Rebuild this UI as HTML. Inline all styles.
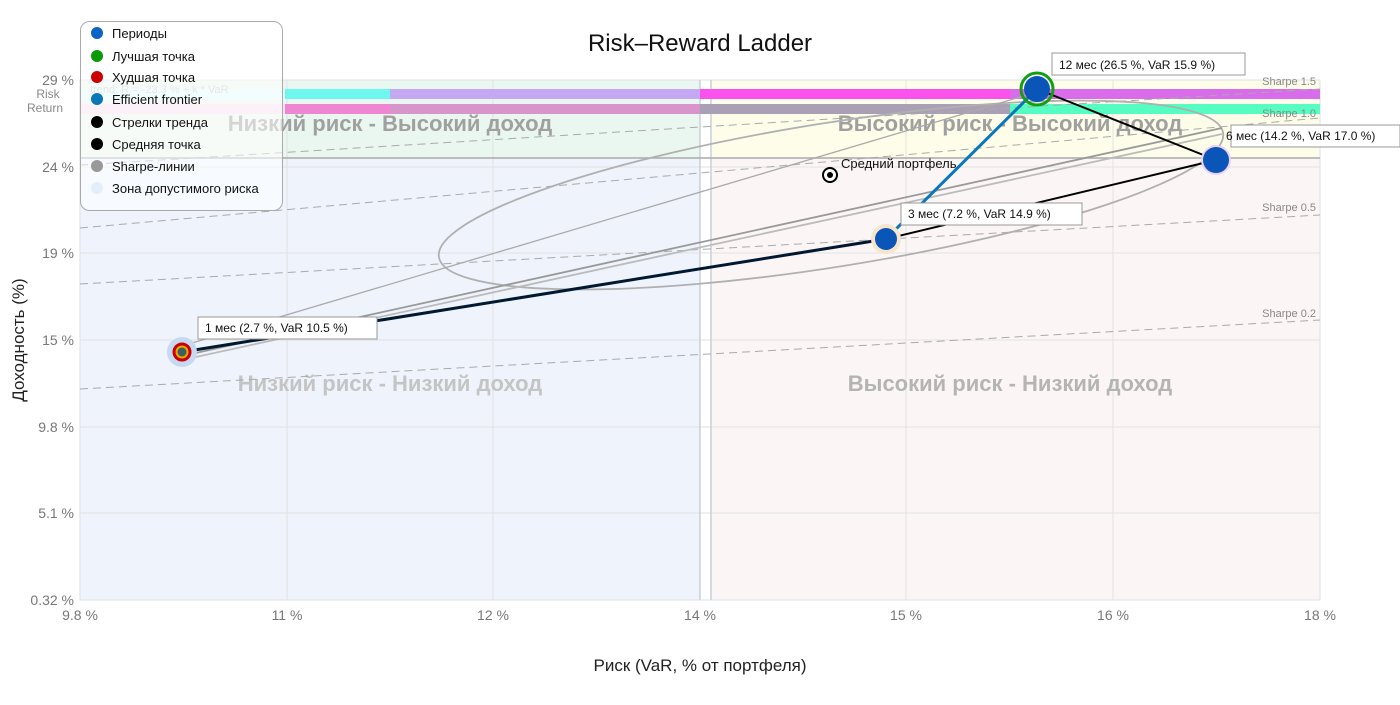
<!DOCTYPE html>
<html><head><meta charset="utf-8"><style>
body{margin:0;background:#fff;}
svg text{font-family:"Liberation Sans",sans-serif;}
</style></head><body>
<svg width="1400" height="700" xmlns="http://www.w3.org/2000/svg">
<rect width="1400" height="700" fill="#fff"/>
<!-- zones -->
<rect x="80" y="80" width="620" height="78" fill="#eaf7f0"/>
<rect x="80" y="158" width="620" height="442" fill="#eef3fc"/>
<rect x="711" y="80" width="609" height="78" fill="#fdfdea"/>
<rect x="711" y="158" width="609" height="442" fill="#fcf5f5"/>
<rect x="80" y="80" width="1240" height="520" fill="none" stroke="#dde3ea"/>
<!-- grid -->
<g stroke="#e2e2e2" stroke-width="1">
<line x1="287" y1="80" x2="287" y2="600"/><line x1="493" y1="80" x2="493" y2="600"/>
<line x1="906" y1="80" x2="906" y2="600"/><line x1="1113" y1="80" x2="1113" y2="600"/>
<line x1="80" y1="167" x2="1320" y2="167"/><line x1="80" y1="253" x2="1320" y2="253"/>
<line x1="80" y1="340" x2="1320" y2="340"/><line x1="80" y1="427" x2="1320" y2="427"/>
<line x1="80" y1="513" x2="1320" y2="513"/>
</g>
<line x1="700" y1="80" x2="700" y2="600" stroke="#c8d0da" stroke-width="1.5"/>
<line x1="711" y1="80" x2="711" y2="600" stroke="#c8d0da" stroke-width="1.5"/>
<line x1="80" y1="158" x2="1320" y2="158" stroke="#aaa" stroke-width="1.5"/>
<!-- bars -->
<rect x="80" y="89" width="205" height="10" fill="#e2fdfb"/>
<rect x="285" y="89" width="105" height="10" fill="#6ef7ee"/>
<rect x="390" y="89" width="310" height="10" fill="#c5a8f2"/>
<rect x="700" y="89" width="310" height="10" fill="#fb52ee"/>
<rect x="1010" y="89" width="310" height="10" fill="#d96ceb"/>
<rect x="80" y="104" width="205" height="10" fill="#fbe0f2"/>
<rect x="285" y="104" width="105" height="10" fill="#ee86d2"/>
<rect x="390" y="104" width="310" height="10" fill="#d895cc"/>
<rect x="700" y="104" width="310" height="10" fill="#aaa0b6"/>
<rect x="1010" y="104" width="310" height="10" fill="#55fdc3"/>
<text x="90" y="93" font-size="11" fill="#c8c8c8">trend: R = -23.3 % + k * VaR</text>
<text x="48" y="98" font-size="12" fill="#888" text-anchor="middle">Risk</text>
<text x="45" y="112" font-size="12" fill="#888" text-anchor="middle">Return</text>
<!-- zone labels -->
<g font-size="22" font-weight="bold" fill="#a0a0a0" text-anchor="middle">
<text x="390" y="131">Низкий риск - Высокий доход</text>
<text x="1010" y="131">Высокий риск - Высокий доход</text>
<text x="390" y="391" fill="#c4c4c4">Низкий риск - Низкий доход</text>
<text x="1010" y="391" fill="#b4b4b4">Высокий риск - Низкий доход</text>
</g>
<!-- sharpe lines -->
<g stroke="#aaa" stroke-dasharray="8,5" stroke-width="1" fill="none">
<line x1="80" y1="165" x2="1320" y2="89"/>
<line x1="80" y1="228" x2="1320" y2="118"/>
<line x1="80" y1="284" x2="1320" y2="215"/>
<line x1="80" y1="389" x2="1320" y2="320"/>
</g>
<g font-size="11" fill="#888" text-anchor="end">
<text x="1316" y="85">Sharpe 1.5</text>
<text x="1316" y="117">Sharpe 1.0</text>
<text x="1316" y="211">Sharpe 0.5</text>
<text x="1316" y="317">Sharpe 0.2</text>
</g>
<!-- ellipse & gray lines -->
<ellipse cx="831" cy="195" rx="397" ry="72" transform="rotate(-9 831 195)" fill="none" stroke="#b0b0b0" stroke-width="1.8"/>
<g stroke="#aaa" stroke-width="1.8" fill="none">
<line x1="182" y1="346" x2="1037" y2="92" stroke-width="1.3"/>
<line x1="182" y1="356" x2="1222" y2="128" stroke="#999"/>
<line x1="182" y1="360" x2="1222" y2="134" stroke="#bbb"/>
</g>
<!-- series lines -->
<line x1="182" y1="352" x2="886" y2="239" stroke="#001830" stroke-width="3"/>
<line x1="886" y1="239" x2="1216" y2="160" stroke="#000" stroke-width="2"/>
<line x1="1037" y1="89" x2="1216" y2="160" stroke="#000" stroke-width="2"/>
<line x1="886" y1="239" x2="1037" y2="89" stroke="#0a78b8" stroke-width="3"/>
<!-- points -->
<circle cx="182" cy="352" r="15" fill="#c6d9f3"/>
<circle cx="182" cy="352" r="8" fill="#e8a800" stroke="#cc0000" stroke-width="3"/>
<circle cx="182" cy="352" r="4.5" fill="#3a6060"/>
<circle cx="886" cy="239" r="15" fill="#f6e6cc"/>
<circle cx="886" cy="239" r="11" fill="#0a55b8"/>
<circle cx="1216" cy="160" r="15" fill="#ecd2f0"/>
<circle cx="1216" cy="160" r="13" fill="#0a55b8"/>
<circle cx="1037" cy="89" r="16" fill="none" stroke="#12a012" stroke-width="3"/>
<circle cx="1037" cy="89" r="13" fill="#0a55b8"/>
<circle cx="830" cy="175" r="7" fill="#fff" stroke="#000" stroke-width="2"/>
<circle cx="830" cy="175" r="3" fill="#000"/>
<text x="841" y="168" font-size="13" fill="#111">Средний портфель</text>
<!-- labels -->
<g font-size="12" fill="#111">
<rect x="198" y="317" width="179" height="22" fill="#fff" stroke="#999"/><text x="205" y="332">1 мес (2.7 %, VaR 10.5 %)</text>
<rect x="901" y="203" width="181" height="22" fill="#fff" stroke="#999"/><text x="908" y="218">3 мес (7.2 %, VaR 14.9 %)</text>
<rect x="1052" y="53" width="193" height="22" fill="#fff" stroke="#999"/><text x="1059" y="69">12 мес (26.5 %, VaR 15.9 %)</text>
<rect x="1231" y="125" width="169" height="22" fill="#fff" stroke="#999"/><text x="1226" y="140">6 мес (14.2 %, VaR 17.0 %)</text>
</g>
<!-- axes labels -->
<g font-size="14" fill="#777" text-anchor="end">
<text x="74" y="85">29 %</text><text x="74" y="172">24 %</text><text x="74" y="258">19 %</text>
<text x="74" y="345">15 %</text><text x="74" y="432">9.8 %</text><text x="74" y="518">5.1 %</text>
<text x="74" y="605">0.32 %</text>
</g>
<g font-size="14" fill="#777" text-anchor="middle">
<text x="80" y="620">9.8 %</text><text x="287" y="620">11 %</text><text x="493" y="620">12 %</text>
<text x="700" y="620">14 %</text><text x="906" y="620">15 %</text><text x="1113" y="620">16 %</text>
<text x="1320" y="620">18 %</text>
</g>
<text x="700" y="671" font-size="17" fill="#222" text-anchor="middle">Риск (VaR, % от портфеля)</text>
<text x="24" y="340" font-size="17" fill="#222" text-anchor="middle" transform="rotate(-90 24 340)">Доходность (%)</text>
<text x="700" y="51" font-size="24" fill="#111" text-anchor="middle">Risk–Reward Ladder</text>
<!-- legend -->
<rect x="80.5" y="21.5" width="202" height="189" rx="9" fill="#fff" fill-opacity="0.55" stroke="#aaa"/>
<g font-size="13" fill="#111">
<circle cx="97" cy="33" r="6" fill="#0a64c8"/><text x="112" y="38">Периоды</text>
<circle cx="97" cy="56" r="6" fill="#0a9a0a"/><text x="112" y="61">Лучшая точка</text>
<circle cx="97" cy="77" r="6" fill="#cc0000"/><text x="112" y="82">Худшая точка</text>
<circle cx="97" cy="99" r="6" fill="#0a78b8"/><text x="112" y="104">Efficient frontier</text>
<circle cx="97" cy="122" r="6" fill="#000"/><text x="112" y="127">Стрелки тренда</text>
<circle cx="97" cy="144" r="6" fill="#000"/><text x="112" y="149">Средняя точка</text>
<circle cx="97" cy="166" r="6" fill="#999"/><text x="112" y="171">Sharpe-линии</text>
<circle cx="97" cy="188" r="6" fill="#e3edfb"/><text x="112" y="193">Зона допустимого риска</text>
</g>
</svg>
</body></html>
